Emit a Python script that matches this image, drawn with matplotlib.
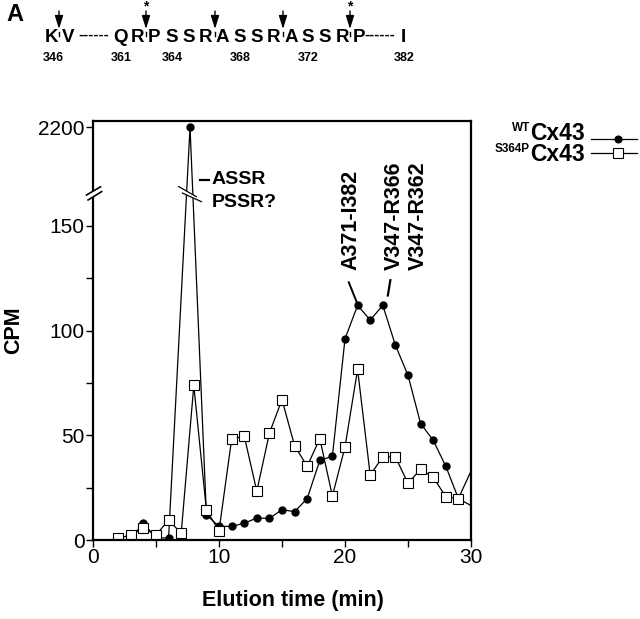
import numpy as np
import matplotlib
matplotlib.use('Agg')
import matplotlib.pyplot as plt
from matplotlib.lines import Line2D
from matplotlib.patches import Polygon, FancyArrowPatch
import matplotlib.transforms as mtrans

plt.rcParams['font.family'] = ['Liberation Sans', 'DejaVu Sans']

# elution profiles (CPM per fraction)
t_wt = [3, 4, 5, 6, 7.7, 9, 10, 11, 12, 13, 14, 15, 16, 17, 18, 19, 20,
        21, 22, 23, 24, 25, 26, 27, 28, 29, 31]
cpm_wt = [1, 8, 1, 1, 2200, 12, 6.5, 6.5, 8, 10.5, 10.3, 14.5, 13.5, 19.8,
          38, 40, 96, 112, 105, 112, 93, 78.6, 55.6, 47.6, 35.2, 19.8, 13]

t_mut = [2, 3, 4, 5, 6, 7, 8, 9, 10, 11, 12, 13, 14, 15, 16, 17, 18, 19,
         20, 21, 22, 23, 24, 25, 26, 27, 28, 29, 31]
cpm_mut = [0.8, 2.4, 5.6, 2.4, 9.5, 3.2, 73.8, 14.3, 4.3, 48, 49.7, 23.3,
           51, 67, 45, 35.2, 48.4, 21, 44.4, 81.4, 31, 39.7, 39.7, 27, 33.8,
           30, 20.6, 19.8, 46]

y_ticks = [0, 50, 100, 150, 2200]
x_ticks = [0, 10, 20, 30]

peak_labels = ['A371-I382', 'V347-R366', 'V347-R362']
peak_x = [20.5, 23.9, 25.8]

seq_letters = ['Q', 'R', 'P', 'S', 'S', 'R', 'A', 'S', 'S', 'R', 'A', 'S', 'S', 'R', 'P']
seq_numbers = ['346', '361', '364', '368', '372', '382']


def brk(v):
    # broken y axis: values above the break are squeezed to the top
    v = np.asarray(v, dtype=float)
    return np.where(v < 160, v, 197 + (v - 2200) * 0.001)


W, H = 640, 619
fig = plt.figure(figsize=(W / 100, H / 100), dpi=100)


def fx(px):
    return px / W


def fy(py):
    return 1 - py / H


ax = fig.add_axes([fx(93), fy(540), fx(471) - fx(93), fy(121) - fy(540)])

ax.plot(t_wt, brk(cpm_wt), '-', color='black', lw=0.9,
        marker='o', ms=5, mfc='black', mec='black', zorder=2)
ax.plot(t_mut, brk(cpm_mut), '-', color='black', lw=0.9,
        marker='s', ms=6.5, mfc='white', mec='black', mew=0.8, zorder=2.2)

ax.set_xlim(0, 30)
ax.set_ylim(0, 200)
ax.set_xticks(x_ticks)
ax.set_xticks([5, 15, 25], minor=True)
ax.set_yticks(brk(y_ticks))
ax.set_yticklabels([str(v) for v in y_ticks])
ax.set_yticks([25, 75, 125], minor=True)
ax.tick_params(which='both', direction='out', length=5, width=1.0,
               labelsize=15, pad=1)
for s in ax.spines.values():
    s.set_linewidth(1.6)

# break on the spike
gap = Polygon([[6.8, 168.7], [8.2, 163.9], [8.6, 161.5], [7.1, 165.6]],
              closed=True, facecolor='white', edgecolor='none', zorder=3)
ax.add_patch(gap)
ax.plot([6.8, 8.2], [168.7, 163.9], color='black', lw=0.9, zorder=4)
ax.plot([7.1, 8.6], [165.6, 161.5], color='black', lw=0.9, zorder=4)

# break on the y axis
bt = mtrans.blended_transform_factory(ax.transAxes, ax.transData)
sgap = Polygon([[-0.017, 164.7], [0.02, 168.6], [0.023, 166.3], [-0.013, 162.3]],
               closed=True, facecolor='white', edgecolor='none',
               transform=bt, clip_on=False, zorder=5)
ax.add_patch(sgap)
ax.add_line(Line2D([-0.017, 0.02], [164.7, 168.6], transform=bt, color='black',
                   lw=1.2, clip_on=False, zorder=6))
ax.add_line(Line2D([-0.013, 0.023], [162.3, 166.3], transform=bt, color='black',
                   lw=1.2, clip_on=False, zorder=6))

# peak annotations
ax.plot([8.46, 9.18], [172, 172], color='black', lw=1.6)
ax.text(9.4, 170, 'ASSR', fontsize=14, fontweight='bold', ha='left', va='baseline')
ax.text(9.4, 159, 'PSSR?', fontsize=14, fontweight='bold', ha='left', va='baseline')
for lab, x in zip(peak_labels, peak_x):
    ax.text(x, 129, lab, rotation=90, fontsize=15.5, fontweight='bold',
            ha='center', va='bottom')
ax.plot([20.3, 20.9], [123, 114], color='black', lw=1.4)
ax.plot([23.6, 23.4], [124, 116.7], color='black', lw=1.6)

ax.set_xlabel('Elution time (min)', fontsize=15.5, fontweight='bold', labelpad=20)
ax.xaxis.set_label_coords(0.53, -0.12)
ax.set_ylabel('CPM', fontsize=15.5, fontweight='bold')
ax.yaxis.set_label_coords(-0.183, 0.5)

# legend, drawn by hand
for row, (sup, mk, mfc) in enumerate([('WT', 'o', 'black'), ('S364P', 's', 'white')]):
    ybase = 140 + row * 21
    yline = 139 + row * 14
    fig.text(fx(530), fy(ybase), 'Cx43', fontsize=16.5, fontweight='bold',
             ha='left', va='baseline')
    fig.text(fx(530), fy(ybase - 9), sup, fontsize=8.5, fontweight='bold',
             ha='right', va='baseline')
    fig.add_artist(Line2D([fx(591), fx(637)], [fy(yline), fy(yline)],
                          color='black', lw=0.9))
    fig.add_artist(Line2D([fx(618)], [fy(yline)], marker=mk, ms=5 if mk == 'o' else 6.5,
                          mfc=mfc, mec='black', mew=0.8, color='black'))

# panel A: sequence header
fig.text(fx(6), fy(21), 'A', fontsize=17, fontweight='bold', va='baseline')
lbase = 42.5
fig.text(fx(51.7), fy(lbase), 'K', fontsize=13.5, fontweight='bold', ha='center', va='baseline')
fig.text(fx(68), fy(lbase), 'V', fontsize=13.5, fontweight='bold', ha='center', va='baseline')
fig.text(fx(93.5), fy(lbase - 4), '------', fontsize=11, fontweight='bold', ha='center', va='baseline')
fig.text(fx(380), fy(lbase - 4), '------', fontsize=11, fontweight='bold', ha='center', va='baseline')
fig.text(fx(403), fy(lbase), 'I', fontsize=13.5, fontweight='bold', ha='center', va='baseline')
for i, c in enumerate(seq_letters):
    fig.text(fx(120 + 17.1 * i), fy(lbase), c, fontsize=13.5, fontweight='bold',
             ha='center', va='baseline')
for n, px in zip(seq_numbers, [53, 121, 172, 240, 308, 404]):
    fig.text(fx(px), fy(61), n, fontsize=9, fontweight='bold', ha='center', va='baseline')

for px, star in [(59, False), (146, True), (215, False), (283, False), (350, True)]:
    fig.add_artist(FancyArrowPatch(
        (fx(px), fy(11)), (fx(px), fy(29)), transform=fig.transFigure,
        arrowstyle='-|>,head_length=0.8,head_width=0.25', mutation_scale=10,
        color='black', lw=1.0, shrinkA=0, shrinkB=0))
    fig.add_artist(Line2D([fx(px), fx(px)], [fy(31.5), fy(36)], color='black', lw=1.0))
    if star:
        fig.text(fx(px), fy(10), '*', fontsize=10, fontweight='bold', ha='center', va='baseline')

plt.savefig('out.png', dpi=100)
